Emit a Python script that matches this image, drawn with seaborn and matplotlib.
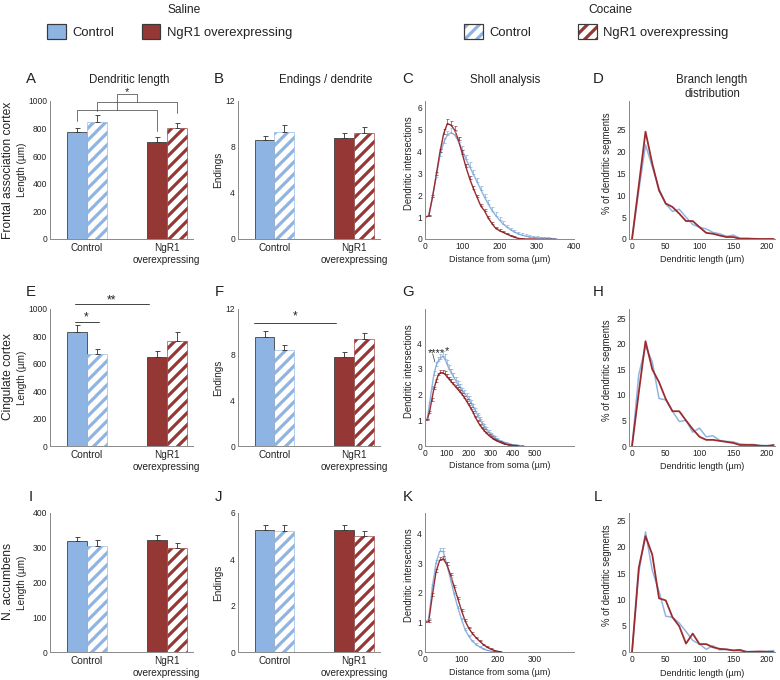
import matplotlib
matplotlib.use("Agg")
import matplotlib.pyplot as plt
from matplotlib.patches import Patch
import numpy as np
import pandas as pd
import seaborn as sns

# ---------------- data ----------------
genotypes = ["Control", "NgR1\noverexpressing"]
treatments = ["Saline", "Cocaine"]

# bar means / SEM, order: Control-Saline, Control-Cocaine, NgR1-Saline, NgR1-Cocaine
fac_length = [777, 850, 705, 801]
fac_length_sem = [29, 46, 36, 42]
fac_endings = [8.6, 9.33, 8.76, 9.19]
fac_endings_sem = [0.4, 0.55, 0.49, 0.58]
cing_length = [829, 672, 648, 770]
cing_length_sem = [51, 37, 42, 59]
cing_endings = [9.58, 8.42, 7.83, 9.35]
cing_endings_sem = [0.52, 0.46, 0.44, 0.55]
nacc_length = [318, 304, 322, 298]
nacc_length_sem = [13, 17, 15, 16]
nacc_endings = [5.28, 5.22, 5.28, 5.02]
nacc_endings_sem = [0.19, 0.27, 0.2, 0.22]

# Sholl analysis (distance from soma, 10 um steps)
sholl_fac_x = list(range(0, 360, 10))
sholl_fac_ctrl = [1.0, 1.05, 1.9, 2.85, 3.8, 4.4, 4.75, 4.85, 4.75, 4.45, 4.05, 3.65, 3.3, 2.95,
                  2.6, 2.25, 1.9, 1.6, 1.3, 1.07, 0.86, 0.68, 0.54, 0.42, 0.32, 0.24, 0.18, 0.13,
                  0.1, 0.08, 0.06, 0.05, 0.04, 0.03, 0.02, 0.01]
sholl_fac_ctrl_sem = [0, 0.05, 0.1, 0.15, 0.18, 0.2, 0.2, 0.2, 0.2, 0.2, 0.2, 0.2, 0.2, 0.2, 0.18,
                      0.18, 0.17, 0.16, 0.15, 0.14, 0.13, 0.12, 0.11, 0.1, 0.1, 0.09, 0.09, 0.08,
                      0.08, 0.07, 0.07, 0.06, 0.05, 0.05, 0.04, 0.03]
sholl_fac_ngr = [1.0, 1.05, 1.9, 2.9, 3.95, 4.8, 5.27, 5.2, 4.96, 4.5, 3.9, 3.28, 2.75, 2.3, 1.9,
                 1.5, 1.28, 0.95, 0.7, 0.48, 0.38, 0.3, 0.22, 0.15, 0.08, 0.03, 0.01, 0, 0, 0, 0,
                 0, 0, 0, 0, 0]
sholl_fac_ngr_sem = [0, 0.05, 0.1, 0.15, 0.18, 0.2, 0.2, 0.2, 0.18, 0.17, 0.15, 0.14, 0.13, 0.12,
                     0.11, 0.1, 0.1, 0.09, 0.08, 0.07, 0.07, 0.06, 0.05, 0.05, 0.04, 0.03, 0.02,
                     0, 0, 0, 0, 0, 0, 0, 0, 0]

sholl_cing_x = list(range(0, 460, 10))
sholl_cing_ctrl = [1.0, 1.05, 1.6, 2.2, 2.75, 3.1, 3.3, 3.4, 3.5, 3.4, 3.2, 3.0, 2.85, 2.7, 2.55,
                   2.4, 2.28, 2.15, 2.05, 1.95, 1.82, 1.68, 1.53, 1.38, 1.2, 1.05, 0.9, 0.77, 0.65,
                   0.55, 0.46, 0.39, 0.32, 0.26, 0.21, 0.17, 0.14, 0.11, 0.09, 0.07, 0.05, 0.04,
                   0.03, 0.02, 0.01, 0.0]
sholl_cing_ctrl_sem = [0, 0.05, 0.1, 0.14, 0.16, 0.18, 0.18, 0.18, 0.18, 0.17, 0.16, 0.15, 0.15,
                       0.14, 0.14, 0.13, 0.13, 0.12, 0.12, 0.11, 0.11, 0.1, 0.1, 0.09, 0.09, 0.08,
                       0.08, 0.07, 0.07, 0.06, 0.06, 0.05, 0.05, 0.04, 0.04, 0.04, 0.03, 0.03,
                       0.03, 0.02, 0.02, 0.02, 0.01, 0.01, 0.01, 0]
sholl_cing_ngr = [1.0, 1.02, 1.3, 1.75, 2.2, 2.5, 2.75, 2.85, 2.85, 2.8, 2.7, 2.6, 2.5, 2.4, 2.3,
                  2.2, 2.1, 2.0, 1.88, 1.74, 1.6, 1.45, 1.3, 1.12, 0.96, 0.82, 0.7, 0.6, 0.5, 0.42,
                  0.35, 0.29, 0.24, 0.19, 0.15, 0.12, 0.09, 0.07, 0.05, 0.04, 0.03, 0.02, 0.01,
                  0.0, 0.0, 0.0]
sholl_cing_ngr_sem = [0, 0.04, 0.08, 0.1, 0.1, 0.1, 0.1, 0.1, 0.1, 0.1, 0.09, 0.09, 0.09, 0.08,
                      0.08, 0.08, 0.08, 0.07, 0.07, 0.07, 0.07, 0.06, 0.06, 0.06, 0.05, 0.05,
                      0.05, 0.05, 0.04, 0.04, 0.04, 0.04, 0.03, 0.03, 0.03, 0.03, 0.02, 0.02,
                      0.02, 0.02, 0.01, 0.01, 0.01, 0, 0, 0]

sholl_nacc_x = list(range(0, 220, 10))
sholl_nacc_ctrl = [1.0, 1.1, 2.2, 3.0, 3.4, 3.4, 2.95, 2.45, 1.95, 1.5, 1.1, 0.75, 0.53, 0.36,
                   0.25, 0.17, 0.1, 0.06, 0.03, 0.01, 0.0, 0.0]
sholl_nacc_ctrl_sem = [0, 0.05, 0.1, 0.1, 0.1, 0.1, 0.09, 0.08, 0.07, 0.06, 0.06, 0.05, 0.05,
                       0.04, 0.04, 0.03, 0.03, 0.02, 0.02, 0.01, 0, 0]
sholl_nacc_ngr = [1.0, 1.02, 1.9, 2.7, 3.1, 3.15, 2.95, 2.6, 2.2, 1.8, 1.4, 1.05, 0.8, 0.62,
                  0.48, 0.36, 0.25, 0.16, 0.1, 0.05, 0.02, 0.0]
sholl_nacc_ngr_sem = [0, 0.05, 0.08, 0.1, 0.1, 0.1, 0.09, 0.08, 0.08, 0.07, 0.06, 0.06, 0.05,
                      0.05, 0.04, 0.04, 0.03, 0.03, 0.02, 0.02, 0.01, 0]

# branch length distribution (% of segments per 10 um bin)
branch_x = list(range(0, 220, 10))
branch_fac_ctrl = [0, 11, 21.5, 16.5, 11.5, 8.0, 6.3, 6.8, 5.0, 3.3, 2.7, 2.3, 1.5, 1.2, 0.6,
                   0.9, 0.2, 0.1, 0.05, 0, 0.05, 0]
branch_fac_ngr = [0, 12.2, 24.5, 17.2, 11.1, 8.1, 7.3, 5.8, 4.1, 4.1, 2.7, 1.4, 1.2, 0.8, 0.45,
                  0.45, 0.05, 0.1, 0.05, 0, 0, 0]
branch_cing_ctrl = [0, 14.0, 19.5, 16.5, 9.3, 9.0, 6.8, 4.8, 5.0, 2.7, 3.5, 1.8, 2.0, 1.1, 0.9,
                    0.8, 0.4, 0.3, 0.3, 0.1, 0.1, 0]
branch_cing_ngr = [0, 10.5, 20.5, 15.0, 12.5, 9.2, 6.8, 6.8, 5.0, 3.3, 1.8, 1.2, 1.2, 1.0, 0.8,
                   0.6, 0.2, 0.2, 0.2, 0.05, 0, 0.2]
branch_nacc_ctrl = [0, 15.0, 22.8, 15.5, 11.5, 6.8, 6.6, 5.5, 3.9, 2.2, 1.5, 0.5, 1.2, 0.4, 0.5,
                    0.3, 0.2, 0.1, 0.1, 0.05, 0.1, 0.3]
branch_nacc_ngr = [0, 16.0, 22.0, 18.5, 10.2, 9.8, 6.6, 4.9, 1.6, 3.5, 1.5, 1.5, 0.9, 0.6, 0.5,
                   0.3, 0.4, 0, 0.05, 0.1, 0.05, 0]

# ---------------- style ----------------
BLUE = "#8db4e2"
RED = "#953735"
LINE_BLUE = "#8fb4df"
LINE_RED = "#9b2b2f"
EDGE = "#3a3a3a"
SPINE = "#8c8c8c"
TXT = "#222222"
HATCH = "//"
colors = {genotypes[0]: BLUE, genotypes[1]: RED}

sns.set_style("white")
plt.rcParams["font.family"] = ["Liberation Sans", "DejaVu Sans"]
plt.rcParams["hatch.linewidth"] = 3.2
plt.rcParams["text.color"] = TXT
plt.rcParams["axes.labelcolor"] = TXT

W, H = 780, 680
ROWS = [(101, 239), (309, 446), (513, 652)]
COLS = [(50, 193), (238, 380), (425, 574), (629, 775)]

fig = plt.figure(figsize=(W / 72, H / 72), dpi=72)


def px_rect(col, row):
    l, r = COLS[col]
    t, b = ROWS[row]
    return [l / W, 1 - b / H, (r - l) / W, (b - t) / H]


def style_axes(ax):
    sns.despine(ax=ax)
    for s in ("left", "bottom"):
        ax.spines[s].set_color(SPINE)
        ax.spines[s].set_linewidth(1.0)
    ax.tick_params(length=0, pad=3, labelsize=8.5, colors=TXT)
    ax.grid(False)


def bar_panel(ax, means, sems, yticks, ylabel, ylab_x):
    df = pd.DataFrame({"genotype": [g for g in genotypes for _ in treatments],
                       "treatment": treatments * 2,
                       "value": means})
    sns.barplot(data=df, x="genotype", y="value", hue="treatment", order=genotypes,
                hue_order=treatments, width=0.5, errorbar=None, legend=False, ax=ax)
    centers = {}
    for cont, treat in zip(ax.containers, treatments):
        for bar, geno in zip(cont, genotypes):
            col = colors[geno]
            if treat == "Saline":
                bar.set_facecolor(col)
                bar.set_edgecolor(EDGE)
                bar.set_linewidth(0.8)
            else:
                bar.set_facecolor("white")
                bar.set_edgecolor(col)
                bar.set_hatch(HATCH)
                bar.set_linewidth(0.6)
            centers[(geno, treat)] = bar.get_x() + bar.get_width() / 2
    xs = [centers[(g, t)] for g in genotypes for t in treatments]
    ax.errorbar(xs, means, yerr=[np.zeros(len(sems)), sems], fmt="none", ecolor=EDGE,
                elinewidth=0.9, capsize=2.5, capthick=0.9, zorder=3)
    style_axes(ax)
    ax.set_xlim(-0.46, 1.33)
    ax.set_ylim(0, yticks[-1])
    ax.set_yticks(yticks)
    ax.set_xlabel("")
    ax.set_ylabel(ylabel, fontsize=10, va="center")
    ax.yaxis.set_label_coords(ylab_x, 0.5)
    ax.tick_params(axis="x", labelsize=10, pad=4)
    return [centers[(g, t)] for g in genotypes for t in treatments]


def sholl_panel(ax, x, ctrl, ctrl_sem, ngr, ngr_sem, xmax, ymax, xticks, yticks):
    df = pd.DataFrame({"distance": list(x) * 2, "value": ctrl + ngr,
                       "group": ["Control"] * len(x) + ["NgR1"] * len(x)})
    sns.lineplot(data=df, x="distance", y="value", hue="group",
                 palette={"Control": LINE_BLUE, "NgR1": LINE_RED},
                 linewidth=1.4, legend=False, ax=ax)
    for ys, es, col in ((ctrl, ctrl_sem, "#7aa3d6"), (ngr, ngr_sem, "#7d2226")):
        xs, ys, es = np.asarray(x), np.asarray(ys), np.asarray(es)
        keep = es > 0
        ax.errorbar(xs[keep], ys[keep], yerr=[np.zeros(keep.sum()), es[keep]], fmt="none",
                    ecolor=col, elinewidth=0.6, capsize=1.5, capthick=0.6)
    style_axes(ax)
    ax.set_xlim(0, xmax)
    ax.set_ylim(0, ymax)
    ax.set_xticks(xticks)
    ax.set_yticks(yticks)
    ax.set_xlabel("Distance from soma (\u00b5m)", fontsize=9, va="center")
    ax.xaxis.set_label_coords(0.5, -0.145)
    ax.set_ylabel("Dendritic intersections", fontsize=9.5, va="center")
    ax.yaxis.set_label_coords(-0.107, 0.55)


def branch_panel(ax, x, ctrl, ngr, ymax):
    df = pd.DataFrame({"length": list(x) * 2, "pct": ctrl + ngr,
                       "group": ["Control"] * len(x) + ["NgR1"] * len(x)})
    sns.lineplot(data=df, x="length", y="pct", hue="group", size="group",
                 sizes={"Control": 1.5, "NgR1": 1.8},
                 palette={"Control": LINE_BLUE, "NgR1": LINE_RED}, legend=False, ax=ax)
    style_axes(ax)
    ax.set_xlim(-4.5, 212)
    ax.set_ylim(0, ymax)
    ax.set_xticks([0, 50, 100, 150, 200])
    ax.set_yticks([0, 5, 10, 15, 20, 25])
    ax.set_xlabel("Dendritic length (\u00b5m)", fontsize=9, va="center")
    ax.xaxis.set_label_coords(0.5, -0.152)
    ax.set_ylabel("% of dendritic segments", fontsize=9.5, va="center")
    ax.yaxis.set_label_coords(-0.15, 0.55)


def bracket(ax, x0, x1, y, y0, y1):
    ax.plot([x0, x0, x1, x1], [y0, y, y, y1], color="#555555", lw=0.8, clip_on=False)


# ---------------- row 1: frontal association cortex ----------------
axA = fig.add_axes(px_rect(0, 0))
cs, cc, ns, nc = bar_panel(axA, fac_length, fac_length_sem, [0, 200, 400, 600, 800, 1000],
                           "Length (\u00b5m)", -0.196)
bracket(axA, cs, ns, 935, 855, 782)
bracket(axA, cc, nc, 995, 927, 915)
ms, mc = (cs + ns) / 2, (cc + nc) / 2
bracket(axA, ms, mc, 1048, 935, 995)
axA.text((ms + mc) / 2, 1068, "*", ha="center", va="center", fontsize=11)

axB = fig.add_axes(px_rect(1, 0))
bar_panel(axB, fac_endings, fac_endings_sem, [0, 4, 8, 12], "Endings", -0.141)

axC = fig.add_axes(px_rect(2, 0))
sholl_panel(axC, sholl_fac_x, sholl_fac_ctrl, sholl_fac_ctrl_sem, sholl_fac_ngr,
            sholl_fac_ngr_sem, 398, 6.3, [0, 100, 200, 300, 400], [0, 1, 2, 3, 4, 5, 6])

axD = fig.add_axes(px_rect(3, 0))
branch_panel(axD, branch_x, branch_fac_ctrl, branch_fac_ngr, 31.5)

# ---------------- row 2: cingulate cortex ----------------
axE = fig.add_axes(px_rect(0, 1))
cs, cc, ns, nc = bar_panel(axE, cing_length, cing_length_sem, [0, 200, 400, 600, 800, 1000],
                           "Length (\u00b5m)", -0.196)
axE.plot([cs - 0.02, cc + 0.03], [905, 905], color="#333333", lw=0.9, clip_on=False)
axE.text(cs + 0.12, 940, "*", ha="center", va="center", fontsize=12)
axE.plot([cs - 0.02, ns - 0.1], [1037, 1037], color="#333333", lw=0.9, clip_on=False)
axE.text((cs + ns - 0.12) / 2, 1063, "**", ha="center", va="center", fontsize=12)

axF = fig.add_axes(px_rect(1, 1))
cs, cc, ns, nc = bar_panel(axF, cing_endings, cing_endings_sem, [0, 4, 8, 12], "Endings", -0.141)
axF.plot([cs - 0.13, ns - 0.1], [10.78, 10.78], color="#333333", lw=0.9, clip_on=False)
axF.text((cs + ns - 0.23) / 2, 11.34, "*", ha="center", va="center", fontsize=12)

axG = fig.add_axes(px_rect(2, 1))
sholl_panel(axG, sholl_cing_x, sholl_cing_ctrl, sholl_cing_ctrl_sem, sholl_cing_ngr,
            sholl_cing_ngr_sem, 680, 5.33, [0, 100, 200, 300, 400, 500], [0, 1, 2, 3, 4])
axG.text(50, 3.62, "****", ha="center", va="center", fontsize=11)
axG.text(98, 3.7, "*", ha="center", va="center", fontsize=11)
axG.plot([35, 45], [3.59, 3.27], color="#333333", lw=0.7)

axH = fig.add_axes(px_rect(3, 1))
branch_panel(axH, branch_x, branch_cing_ctrl, branch_cing_ngr, 26.8)

# ---------------- row 3: nucleus accumbens ----------------
axI = fig.add_axes(px_rect(0, 2))
bar_panel(axI, nacc_length, nacc_length_sem, [0, 100, 200, 300, 400], "Length (\u00b5m)", -0.196)

axJ = fig.add_axes(px_rect(1, 2))
bar_panel(axJ, nacc_endings, nacc_endings_sem, [0, 2, 4, 6], "Endings", -0.141)

axK = fig.add_axes(px_rect(2, 2))
sholl_panel(axK, sholl_nacc_x, sholl_nacc_ctrl, sholl_nacc_ctrl_sem, sholl_nacc_ngr,
            sholl_nacc_ngr_sem, 408, 4.7, [0, 100, 200, 300], [0, 1, 2, 3, 4])

axL = fig.add_axes(px_rect(3, 2))
branch_panel(axL, branch_x, branch_nacc_ctrl, branch_nacc_ngr, 26.4)

# ---------------- figure text ----------------
def ftext(x, y, s, **kw):
    fig.text(x / W, 1 - y / H, s, **kw)


for label, y in (("Frontal association cortex", 170), ("Cingulate cortex", 377),
                 ("N. accumbens", 582)):
    ftext(8, y, label, rotation=90, ha="center", va="center", fontsize=12)

letters = [("A", "B", "C", "D"), ("E", "F", "G", "H"), ("I", "J", "K", "L")]
for row, base in zip(letters, (83, 296, 501)):
    for letter, x in zip(row, (31, 219, 408, 598)):
        ftext(x, base, letter, ha="center", va="baseline", fontsize=15)

ftext(129, 83, "Dendritic length", ha="center", va="baseline", fontsize=11.5)
ftext(326, 83, "Endings / dendrite", ha="center", va="baseline", fontsize=11.5)
ftext(505, 83, "Sholl analysis", ha="center", va="baseline", fontsize=11.5)
ftext(712, 83, "Branch length", ha="center", va="baseline", fontsize=11.5)
ftext(712, 97, "distribution", ha="center", va="baseline", fontsize=11.5)

ftext(184, 13, "Saline", ha="center", va="baseline", fontsize=12)
ftext(610, 13, "Cocaine", ha="center", va="baseline", fontsize=12)

saline_handles = [Patch(facecolor=BLUE, edgecolor=EDGE, lw=1.2),
                  Patch(facecolor=RED, edgecolor=EDGE, lw=1.2)]
cocaine_handles = [(Patch(facecolor="white", edgecolor=BLUE, hatch=HATCH, lw=0),
                    Patch(facecolor="none", edgecolor=EDGE, lw=1.2)),
                   (Patch(facecolor="white", edgecolor=RED, hatch=HATCH, lw=0),
                    Patch(facecolor="none", edgecolor=EDGE, lw=1.2))]
legend_labels = ["Control", "NgR1 overexpressing"]
fig.legend(saline_handles, legend_labels, loc="upper left", bbox_to_anchor=(47 / W, 1 - 24 / H),
           ncol=2, frameon=False, fontsize=13, handlelength=1.45, handleheight=1.45,
           handletextpad=0.5, columnspacing=2.1, borderpad=0, borderaxespad=0)
fig.legend(cocaine_handles, legend_labels, loc="upper left", bbox_to_anchor=(464 / W, 1 - 24 / H),
           ncol=2, frameon=False, fontsize=13, handlelength=1.45, handleheight=1.45,
           handletextpad=0.5, columnspacing=3.6, borderpad=0, borderaxespad=0)

fig.savefig("out.png", dpi=72)
